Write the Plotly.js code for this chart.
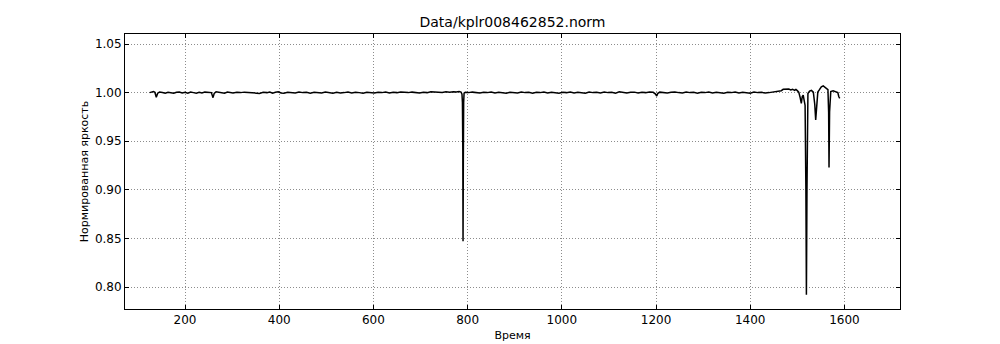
<!DOCTYPE html>
<html>
<head>
<meta charset="utf-8">
<script src="https://cdn.plot.ly/plotly-3.0.1.min.js"></script>
<style>html,body{margin:0;padding:0;background:#fff;}#chart{width:1000px;height:344px;}</style>
</head>
<body>
<div id="chart"></div>
<script>
const chartTitle = "Data/kplr008462852.norm";
const xLabel = "Время";
const yLabel = "Нормированная яркость";

const time = [
125,129,133,136,139,142,146,152,158,164,170,176,182,188,194,200,206,212,218,224,230,236,242,248,253,256,259.5,262,266,272,278,284,290,296,302,310,318,326,334,342,350,358,366,374,380,386,392,398,404,410,418,426,434,442,450,458,466,474,482,490,498,506,514,522,530,538,546,554,562,570,578,586,594,602,610,618,626,634,642,650,658,666,674,682,690,698,706,714,722,730,738,746,754,762,770,776,782,786,788,789,789.8,790.3,790.9,791.6,792.5,795,802,810,818,826,834,842,850,858,866,874,882,890,898,906,914,922,930,938,946,954,962,970,978,986,994,1002,1010,1018,1026,1034,1042,1050,1058,1066,1074,1082,1090,1098,1106,1114,1122,1130,1138,1146,1154,1162,1170,1178,1186,1194,1199,1201.5,1204,1208,1216,1224,1232,1240,1248,1256,1264,1272,1280,1288,1296,1304,1312,1320,1328,1336,1344,1352,1360,1368,1376,1384,1392,1400,1408,1416,1424,1432,1440,1448,1454,1460,1466,1470,1474,1478,1482,1486,1490,1494,1497,1500,1503,1506,1508.5,1510.5,1512.5,1514.5,1516.5,1518.2,1519.3,1520.5,1522.5,1526,1530,1534,1537,1539,1541,1543.5,1547,1551,1555,1559,1562,1565,1566.5,1567.3,1568.5,1571,1576,1580,1583,1586,1588,1590
];
const flux = [
1.0000,1.0004,1.0012,1.0003,0.9952,0.9994,1.0006,1.0002,0.9994,1.0004,1.0000,0.9993,1.0003,1.0005,0.9996,1.0003,0.9995,1.0005,1.0000,0.9993,1.0003,0.9997,1.0005,1.0002,1.0006,1.0000,0.9948,0.9992,1.0009,1.0006,1.0000,0.9994,1.0005,1.0002,0.9996,1.0003,1.0000,1.0005,1.0002,1.0003,1.0000,0.9992,1.0003,1.0000,1.0007,0.9995,1.0003,1.0008,0.9996,0.9993,1.0003,1.0000,0.9996,1.0005,1.0000,1.0003,0.9994,1.0003,1.0000,0.9996,1.0005,1.0000,0.9994,1.0003,0.9996,1.0000,1.0005,0.9996,1.0003,1.0000,0.9993,1.0003,1.0000,0.9996,1.0003,1.0000,1.0005,0.9996,1.0003,1.0000,1.0007,1.0003,1.0000,1.0005,1.0003,0.9996,1.0003,1.0000,1.0008,1.0004,1.0006,1.0002,1.0009,1.0005,1.0010,1.0006,1.0012,1.0006,0.9985,0.9900,0.9400,0.8470,0.9300,0.9900,0.9995,1.0003,1.0000,1.0005,1.0002,0.9996,1.0003,1.0000,1.0005,0.9996,1.0003,1.0000,0.9994,1.0003,1.0000,0.9996,1.0005,1.0000,1.0003,0.9994,1.0003,1.0000,1.0005,0.9996,1.0003,1.0000,0.9994,1.0003,1.0000,1.0007,0.9996,1.0003,1.0000,0.9993,1.0005,1.0000,1.0003,0.9996,1.0005,1.0000,1.0003,0.9994,1.0008,1.0000,0.9996,1.0003,1.0005,0.9996,1.0003,1.0000,1.0007,1.0003,0.9985,0.9965,0.9993,1.0005,1.0003,0.9996,1.0003,1.0007,1.0000,0.9996,1.0005,1.0000,1.0003,0.9994,1.0003,1.0000,1.0005,0.9996,1.0003,1.0000,0.9994,1.0003,1.0000,1.0005,0.9996,1.0003,1.0000,0.9994,1.0005,1.0000,1.0003,0.9996,1.0000,1.0005,1.0006,1.0009,1.0020,1.0034,1.0037,1.0040,1.0036,1.0028,1.0035,1.0024,1.0032,1.0020,1.0005,0.9950,0.9890,0.9960,0.9975,0.9920,0.9870,0.9000,0.7920,0.9000,0.9990,1.0015,1.0022,1.0005,0.9880,0.9720,0.9900,1.0005,1.0030,1.0060,1.0070,1.0055,1.0035,1.0030,0.9800,0.9230,0.9800,1.0010,1.0018,1.0010,0.9998,1.0000,0.9960,0.9940
];

const xTicks = [200,400,600,800,1000,1200,1400,1600];
const yTicks = [0.80,0.85,0.90,0.95,1.00,1.05];
const yTickText = ["0.80","0.85","0.90","0.95","1.00","1.05"];

const axisCommon = {
  showline: true, linecolor: '#000', linewidth: 1, mirror: 'ticks',
  ticks: 'inside', ticklen: 4, tickcolor: '#000', tickwidth: 1,
  showgrid: true, gridcolor: '#8c8c8c', griddash: '1px,2px', gridwidth: 1,
  zeroline: false,
  tickfont: {family: 'DejaVu Sans', size: 12, color: '#000'}
};

const layout = {
  width: 1000, height: 344,
  margin: {l: 125, r: 100, t: 34, b: 35},
  paper_bgcolor: '#fff', plot_bgcolor: '#fff',
  showlegend: false,
  title: {text: chartTitle, x: 0.5125, xanchor: 'center', y: 0.935, yanchor: 'middle',
          font: {family: 'DejaVu Sans', size: 14, color: '#000'}},
  xaxis: Object.assign({}, axisCommon, {
    range: [72.6, 1718], tickvals: xTicks, ticktext: xTicks.map(String),
    title: {text: xLabel, font: {family: 'DejaVu Sans', size: 11, color: '#000'}, standoff: 4}
  }),
  yaxis: Object.assign({}, axisCommon, {
    range: [0.7774, 1.0603], tickvals: yTicks, ticktext: yTickText,
    title: {text: yLabel, font: {family: 'DejaVu Sans', size: 11, color: '#000'}, standoff: 4}
  })
};

Plotly.newPlot('chart', [{
  x: time, y: flux, type: 'scatter', mode: 'lines',
  line: {color: '#000', width: 1.5}, hoverinfo: 'skip'
}], layout, {displayModeBar: false, staticPlot: true});
</script>
</body>
</html>
